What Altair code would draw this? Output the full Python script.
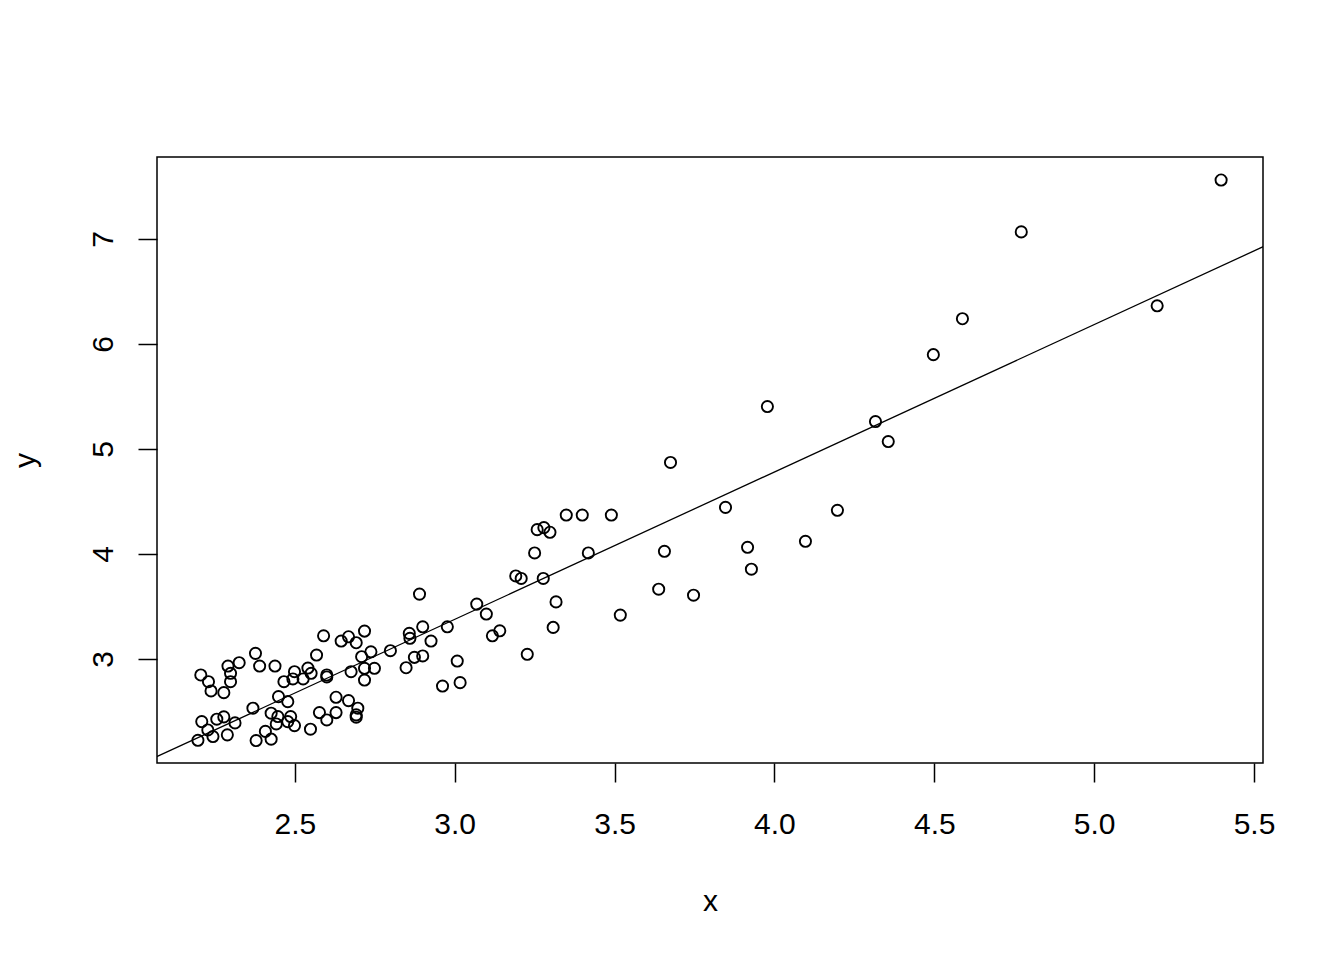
import altair as alt
import pandas as pd

x_vals = [
    2.206, 2.230, 2.238, 2.278, 2.291, 2.299, 2.299, 2.326, 2.377, 2.390,
    2.438, 2.466, 2.494, 2.499, 2.526, 2.541, 2.551, 2.568, 2.590, 2.600,
    2.600, 2.645, 2.668, 2.692, 2.718, 2.676, 2.709, 2.718, 2.749, 2.718,
    2.738, 2.799, 2.858, 2.860, 2.900, 2.926, 2.977, 2.848, 2.874, 2.900,
    2.890, 2.962, 3.008, 3.017,
    2.209, 2.256, 2.278, 2.228, 2.244, 2.197, 2.289, 2.313, 2.369, 2.379,
    2.408, 2.426, 2.426, 2.447, 2.449, 2.478, 2.442, 2.487, 2.478, 2.499,
    2.549, 2.577, 2.600, 2.629, 2.629, 2.668, 2.697, 2.692, 2.692,
    3.069, 3.099, 3.118, 3.141, 3.191, 3.208, 3.227, 3.250, 3.258, 3.279,
    3.298, 3.277, 3.317, 3.308, 3.349, 3.399, 3.490, 3.418, 3.518,
    3.638, 3.656, 3.675, 3.747, 3.847, 3.916, 3.928, 3.978, 4.097, 4.197,
    4.316, 4.356, 4.497, 4.588, 4.772, 5.197, 5.397,
]
y_vals = [
    2.848, 2.784, 2.696, 2.680, 2.933, 2.864, 2.784, 2.965, 3.054, 2.933,
    2.933, 2.784, 2.810, 2.879, 2.810, 2.914, 2.864, 3.038, 3.221, 2.848,
    2.829, 3.171, 3.212, 3.155, 3.266, 2.879, 3.022, 2.912, 2.912, 2.800,
    3.069, 3.079, 3.244, 3.197, 3.307, 3.171, 3.307, 2.917, 3.016, 3.029,
    3.618, 2.743, 2.981, 2.775,
    2.404, 2.427, 2.449, 2.325, 2.262, 2.226, 2.278, 2.392, 2.532, 2.224,
    2.311, 2.237, 2.484, 2.452, 2.642, 2.594, 2.382, 2.452, 2.404, 2.366,
    2.332, 2.490, 2.420, 2.636, 2.490, 2.604, 2.532, 2.468, 2.446,
    3.523, 3.428, 3.221, 3.269, 3.791, 3.767, 3.045, 4.010, 4.232, 4.251,
    4.207, 3.767, 3.544, 3.301, 4.371, 4.371, 4.371, 4.010, 3.418,
    3.665, 4.026, 4.872, 3.608, 4.444, 4.064, 3.855, 5.404, 4.121, 4.416,
    5.261, 5.071, 5.898, 6.240, 7.067, 6.363, 7.561,
]
x_ticks = [2.5, 3.0, 3.5, 4.0, 4.5, 5.0, 5.5]
y_ticks = [3, 4, 5, 6, 7]

df = pd.DataFrame({"x": x_vals, "y": y_vals})

FONT = "Liberation Sans"
xscale = alt.Scale(domain=[2.069, 5.528], nice=False, zero=False)
yscale = alt.Scale(domain=[2.01, 7.78], nice=False, zero=False)

xaxis = alt.Axis(
    values=x_ticks, format=".1f", grid=False, domain=False,
    tickSize=19, tickWidth=1.5, tickColor="black",
    labelFont=FONT, labelFontSize=30, labelColor="black",
    labelBaseline="alphabetic", labelPadding=51,
    title="x", titleFont=FONT, titleFontSize=30, titleFontWeight="normal",
    titleColor="black", titleBaseline="alphabetic", titleY=147,
    labelFlush=False, labelOverlap=False,
)
yaxis = alt.Axis(
    values=y_ticks, format="d", grid=False, domain=False,
    tickSize=19, tickWidth=1.5, tickColor="black",
    labelFont=FONT, labelFontSize=30, labelColor="black",
    labelAngle=270, labelAlign="center", labelBaseline="alphabetic",
    labelPadding=26,
    title="y", titleFont=FONT, titleFontSize=30, titleFontWeight="normal",
    titleColor="black", titleBaseline="alphabetic", titleAngle=270,
    titleX=-123, titleAlign="center",
    labelFlush=False, labelOverlap=False,
)

base = alt.Chart(df)

points = base.mark_point(
    shape="circle", filled=False, stroke="black", strokeWidth=1.9, size=125, opacity=1
).encode(
    x=alt.X("x:Q", scale=xscale, axis=xaxis),
    y=alt.Y("y:Q", scale=yscale, axis=yaxis),
)

line = base.transform_regression(
    "x", "y", extent=[2.0, 5.6]
).mark_line(color="black", strokeWidth=1.3, clip=True).encode(
    x=alt.X("x:Q", scale=xscale),
    y=alt.Y("y:Q", scale=yscale),
)

chart = alt.layer(points, line).properties(
    width=1106, height=606,
    autosize=alt.AutoSizeParams(type="none"),
    padding={"left": 149, "top": 149, "right": 73, "bottom": 189},
    background="white",
).configure_view(stroke="black", strokeWidth=1.5)

chart.save("out.html", embed_options={"renderer": "svg", "actions": False})
